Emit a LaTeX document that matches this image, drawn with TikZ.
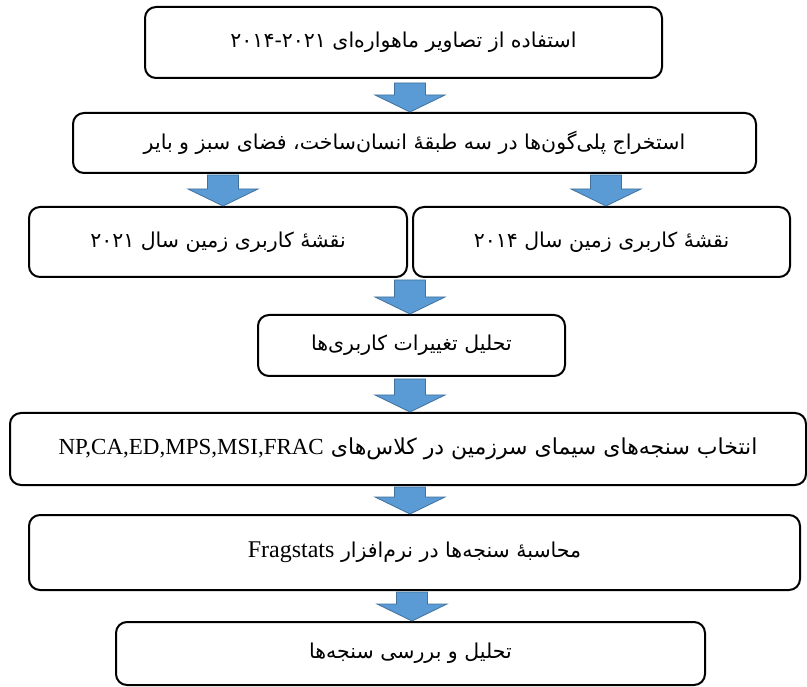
\documentclass[tikz,border=0pt]{standalone}
\usepackage{fontspec}
\setmainfont{Liberation Serif}
\newfontfamily\arabicfont[Script=Arabic]{DejaVu Sans}
\TeXXeTstate=1
\usetikzlibrary{calc}
\definecolor{arrfill}{HTML}{5B9BD5}
\definecolor{arrline}{HTML}{41719C}
\newcommand{\fa}[1]{{\arabicfont\beginR #1\endR}}
\newcommand{\lat}[2]{{\rmfamily\fontsize{#1}{#1}\selectfont\beginL #2\endL}}
\begin{document}
\begin{tikzpicture}[x=1pt,y=-1pt,
  box/.style={draw=black, line width=2pt, rounded corners=11pt, inner sep=0pt, font=\fontsize{20.5}{24}\selectfont},
  blockarrow/.style={draw=arrline, fill=arrfill, line width=0.8pt,
    to path={let \p1=(\tikztostart), \p2=(\tikztotarget) in
      (\x1-15.5pt,\y1) -- (\x1+15.5pt,\y1) -- (\x1+15.5pt,\y2+17pt) -- (\x1+35pt,\y2+17pt)
      -- (\x1,\y2) -- (\x1-35pt,\y2+17pt) -- (\x1-15.5pt,\y2+17pt) -- cycle}}]
\useasboundingbox (0,0) rectangle (807,687);

\node[box, minimum width=517pt, minimum height=71pt] (b1) at (403.5,42.5)
  {\fa{استفاده از تصاویر ماهواره‌ای ۲۰۱۴-۲۰۲۱}};
\node[box, minimum width=683pt, minimum height=60pt] (b2) at (414.5,143)
  {\fa{استخراج پلی‌گون‌ها در سه طبقهٔ انسان‌ساخت، فضای سبز و بایر}};
\node[box, minimum width=378pt, minimum height=70pt] (b3l) at (218,242)
  {\fa{نقشهٔ کاربری زمین سال ۲۰۲۱}};
\node[box, minimum width=377pt, minimum height=70pt] (b3r) at (601.5,242)
  {\fa{نقشهٔ کاربری زمین سال ۲۰۱۴}};
\node[box, minimum width=307pt, minimum height=61pt] (b4) at (411.5,345.5)
  {\fa{تحلیل تغییرات کاربری‌ها}};
\node[box, minimum width=796pt, minimum height=72pt, font=\fontsize{22}{26}\selectfont] (b5) at (408,449)
  {\fa{انتخاب سنجه‌های سیمای سرزمین در کلاس‌های \lat{23}{NP,CA,ED,MPS,MSI,FRAC}}};
\node[box, minimum width=771pt, minimum height=75pt] (b6) at (414.5,552.5)
  {\fa{محاسبهٔ سنجه‌ها در نرم‌افزار \lat{24}{Fragstats}}};
\node[box, minimum width=589pt, minimum height=63pt] (b7) at (410.5,653.5)
  {\fa{تحلیل و بررسی سنجه‌ها}};

\coordinate (s1) at (410,83);
\coordinate (s2l) at (223,175);
\coordinate (s2r) at (606,175);
\coordinate (s3) at (410,280);
\coordinate (s4) at (410,379);
\coordinate (s5) at (410,487);
\coordinate (s6) at (412,592);

\draw[blockarrow] (s1) to (s1 |- b2.north);
\draw[blockarrow] (s2l) to (s2l |- b3l.north);
\draw[blockarrow] (s2r) to (s2r |- b3r.north);
\draw[blockarrow] (s3) to (s3 |- b4.north);
\draw[blockarrow] (s4) to (s4 |- b5.north);
\draw[blockarrow] (s5) to (s5 |- b6.north);
\draw[blockarrow] (s6) to (s6 |- b7.north);
\end{tikzpicture}
\end{document}
